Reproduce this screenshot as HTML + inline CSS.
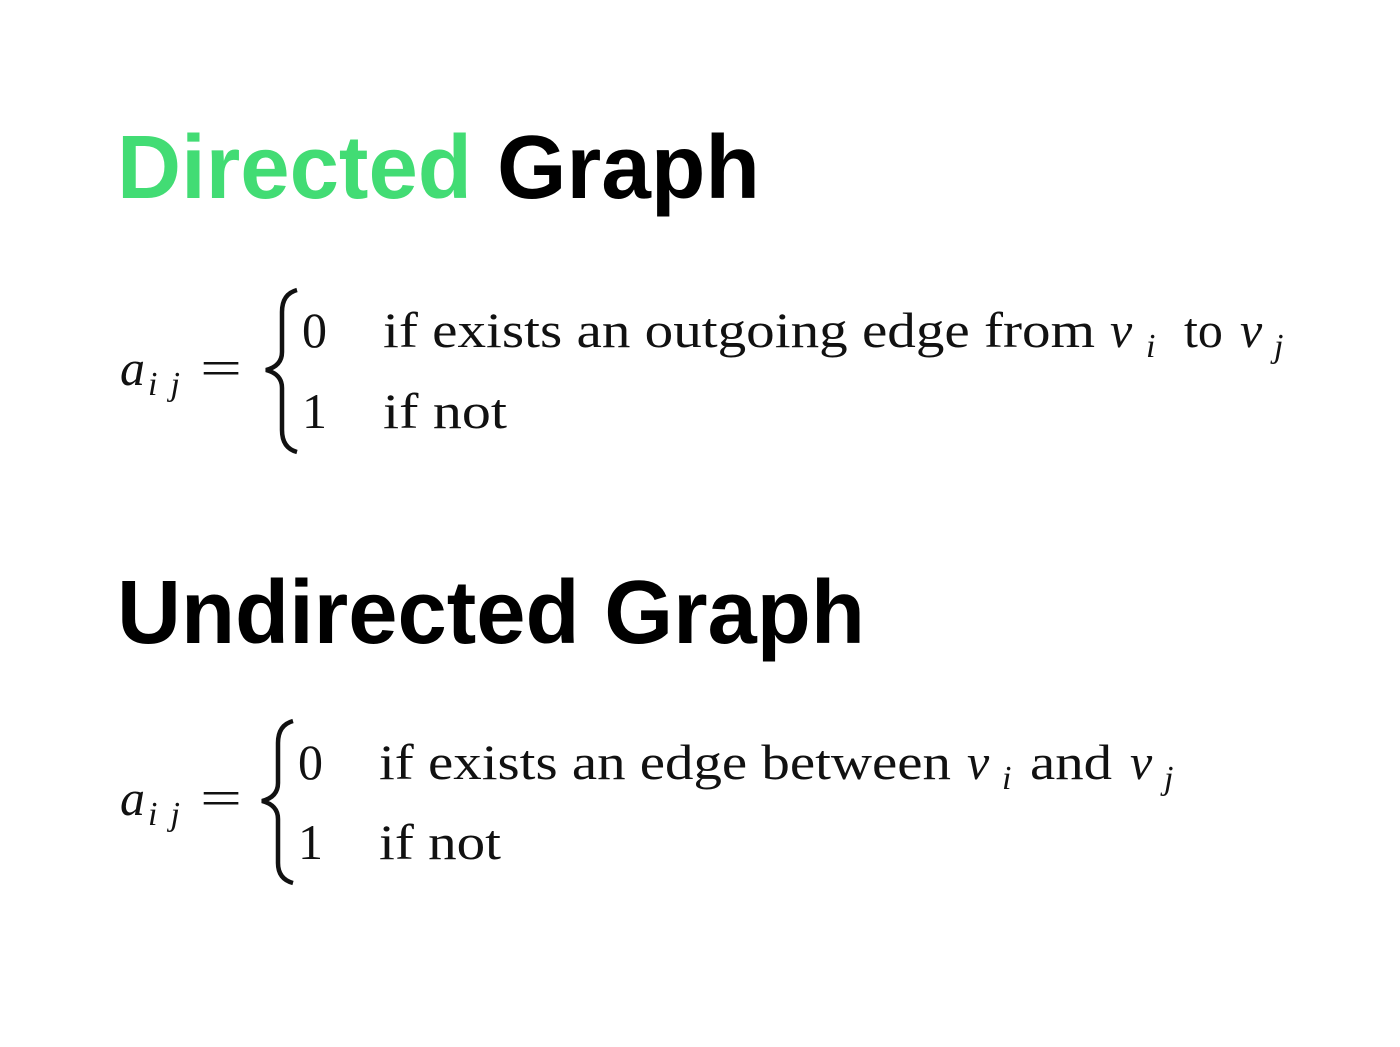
<!DOCTYPE html>
<html><head><meta charset="utf-8"><style>
html,body{margin:0;padding:0;background:#fff;}
svg{display:block}
.t{font-family:"Liberation Sans",sans-serif;font-weight:bold;font-size:90px;}
.m{font-family:"Liberation Serif",serif;font-size:50px;fill:#111;}
.i{font-style:italic;}
.s{font-size:34px;font-style:italic;}
</style></head><body>
<svg width="1400" height="1047" viewBox="0 0 1400 1047">
<text class="t" x="117" y="198" fill="#42dc74" textLength="355" lengthAdjust="spacingAndGlyphs">Directed</text>
<text class="t" x="497" y="198" fill="#000" textLength="263" lengthAdjust="spacingAndGlyphs">Graph</text>
<text class="t" x="117" y="643" fill="#000" textLength="748" lengthAdjust="spacingAndGlyphs">Undirected Graph</text>

<g class="m">
<text class="i" x="120" y="385">a</text><text class="s" x="148" y="395" textLength="32">ij</text>
<text x="200" y="385" textLength="42" lengthAdjust="spacingAndGlyphs">=</text>
<text x="302" y="347">0</text>
<text x="383" y="347" textLength="712" lengthAdjust="spacingAndGlyphs">if exists an outgoing edge from</text>
<text class="i" x="1110" y="347">v</text><text class="s" x="1146" y="357">i</text>
<text x="1184" y="347">to</text>
<text class="i" x="1240" y="347">v</text><text class="s" x="1274" y="357">j</text>
<text x="302" y="428">1</text>
<text x="383" y="428" textLength="124" lengthAdjust="spacingAndGlyphs">if not</text>
</g>
<path d="M297,290 Q282,294 282,312 L282,352 Q282,366 266,370 Q282,374 282,388 L282,430 Q282,448 297,452" fill="none" stroke="#111" stroke-width="4.5"/>

<g class="m">
<text class="i" x="120" y="815">a</text><text class="s" x="148" y="825" textLength="32">ij</text>
<text x="200" y="815" textLength="42" lengthAdjust="spacingAndGlyphs">=</text>
<text x="298" y="779">0</text>
<text x="379" y="779" textLength="572" lengthAdjust="spacingAndGlyphs">if exists an edge between</text>
<text class="i" x="967" y="779">v</text><text class="s" x="1002" y="789">i</text>
<text x="1030" y="779" textLength="82" lengthAdjust="spacingAndGlyphs">and</text>
<text class="i" x="1130" y="779">v</text><text class="s" x="1164" y="789">j</text>
<text x="298" y="859">1</text>
<text x="379" y="859" textLength="122" lengthAdjust="spacingAndGlyphs">if not</text>
</g>
<path d="M293,721 Q278,725 278,743 L278,783 Q278,797 262,801 Q278,805 278,819 L278,863 Q278,879 293,883" fill="none" stroke="#111" stroke-width="4.5"/>
</svg>
</body></html>
